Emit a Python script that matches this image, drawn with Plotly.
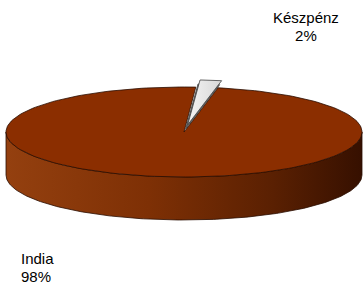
import numpy as np
import plotly.graph_objects as go

labels = ["India", "Készpénz"]
values = [98, 2]

W, H = 363, 291
cx, cy = 184, 132
rx, ry = 178, 45
depth = 43
start_angle = 11  # degrees clockwise from 12 o'clock
explode = [0, 0.16]

total = sum(values)
angles = []
a = start_angle
for v in values:
    sweep = v / total * 360
    angles.append((a, a + sweep))
    a += sweep


def arc(a0, a1, ox=0.0, oy=0.0, dy=0.0, n=200):
    t = np.radians(np.linspace(a0, a1, n))
    return list(cx + ox + rx * np.sin(t)), list(cy + oy + dy - ry * np.cos(t))


fig = go.Figure()

# side wall (front half)
xs1, ys1 = arc(90, 270)
xs2, ys2 = arc(270, 90, dy=depth)
fig.add_trace(go.Scatter(
    x=xs1 + xs2 + [xs1[0]], y=ys1 + ys2 + [ys1[0]], mode="lines", fill="toself",
    line=dict(color="#2a0c00", width=0.8),
    fillgradient=dict(type="horizontal",
                      colorscale=[[0, "#94400f"], [0.4, "#7e3005"], [0.75, "#5a2002"], [1, "#361000"]]),
    hoverinfo="skip"))

# India top sector
a0, a1 = angles[0]
xs, ys = arc(a0, a1)
fig.add_trace(go.Scatter(
    x=[cx] + xs + [cx], y=[cy] + ys + [cy], mode="lines", fill="toself",
    fillcolor="#8b2e00", line=dict(color="#2a0c00", width=0.8), hoverinfo="skip"))

# Készpénz exploded wedge
a0, a1 = angles[1]
mid = np.radians((a0 + a1) / 2)
ox = explode[1] * rx * np.sin(mid)
oy = -explode[1] * ry * np.cos(mid)
xs, ys = arc(a0, a1, ox, oy, n=40)
wx = [cx + ox] + xs + [cx + ox]
wy = [cy + oy] + ys + [cy + oy]
fig.add_trace(go.Scatter(
    x=[x - 2 for x in wx], y=[y + 4 for y in wy], mode="lines", fill="toself",
    fillcolor="#6a6a6a", line=dict(color="#404040", width=0.8), hoverinfo="skip"))
fig.add_trace(go.Scatter(
    x=wx, y=wy, mode="lines", fill="toself",
    fillgradient=dict(type="horizontal", colorscale=[[0, "#f4f4f4"], [1, "#d8d8d8"]]),
    line=dict(color="#404040", width=0.8), hoverinfo="skip"))

# base font size sets the line spacing; spans set the glyph size
font = dict(family="Liberation Sans, Arial, sans-serif", size=13.5, color="#000000")
span = "<span style='font-size:15px'>{}</span>"
# (x, y of the text block centre, anchor)
label_pos = [(20, 267, "left"), (306, 26, "center")]
for (lx, ly, anc), lab, v in zip(label_pos, labels, values):
    txt = span.format(lab) + "<br>" + span.format(f"{round(v / total * 100)}%")
    fig.add_annotation(x=lx, y=ly, text=txt, showarrow=False, align=anc,
                       xanchor=anc, yanchor="middle", font=font, borderpad=0)

fig.update_layout(
    width=W, height=H, margin=dict(l=0, r=0, t=0, b=0),
    paper_bgcolor="white", plot_bgcolor="white", showlegend=False,
    xaxis=dict(range=[0, W], visible=False, fixedrange=True),
    yaxis=dict(range=[H, 0], visible=False, fixedrange=True),
)

fig.write_html("out.html", post_script="document.body.style.margin='0';",
               config={"displayModeBar": False})
